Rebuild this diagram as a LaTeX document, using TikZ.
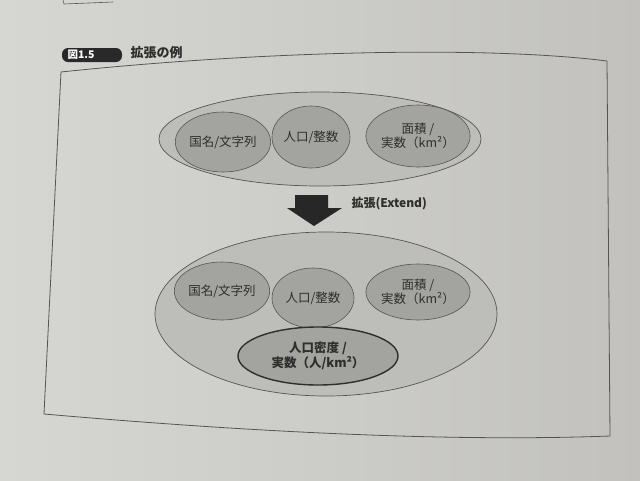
\documentclass[tikz,border=0pt]{standalone}
\usepackage{fontspec}
\setmainfont{Noto Sans CJK JP}
\usetikzlibrary{shapes.geometric}
\definecolor{pageL}{HTML}{D6D7D3}
\definecolor{pageR}{HTML}{C2C1BD}
\definecolor{outerfill}{HTML}{BDBDB9}
\definecolor{innerfill}{HTML}{A3A3A0}
\definecolor{ink}{HTML}{2E2E2E}
\definecolor{linec}{HTML}{555555}
\tikzset{
  outerell/.style={ellipse, draw=linec, line width=0.7pt, fill=outerfill, inner sep=0pt},
  innerell/.style={ellipse, draw=linec, line width=0.6pt, fill=innerfill, inner sep=0pt,
    text=ink, font=\fontsize{12.5}{14.5}\selectfont, align=center},
  newell/.style={innerell, line width=1.4pt, draw=ink, font=\bfseries\fontsize{12.5}{15}\selectfont},
}
\begin{document}
\begin{tikzpicture}[x=1pt,y=-1pt]
\useasboundingbox (0,0) rectangle (640,480);
\shade[left color=pageL, right color=pageR] (0,0) rectangle (640,480);
% remnant of previous box
\draw[linec, line width=0.6pt] (63,0) -- (64,4) -- (113,2);
% frame
\draw[linec, line width=0.8pt] (61,72) .. controls (250,52) and (480,45) .. (607,61)
  -- (610,436) .. controls (450,442) and (250,432) .. (44,414) -- cycle;
% figure label
\node[fill=ink!90!black, rounded corners=6pt, minimum width=60pt, minimum height=14pt,
  inner sep=0pt] (lab) at (92,55) {};
\node[text=white, font=\bfseries\fontsize{10.5}{12}\selectfont, anchor=west] (labt) at (64,55) {図1.5};
\node[text=ink, font=\bfseries\fontsize{13}{15}\selectfont, anchor=west] (title) at (127,53) {拡張の例};
% top group
\node[outerell, minimum width=322pt, minimum height=94pt] (top) at (320,139) {};
\node[innerell, minimum width=82pt, minimum height=60pt] (t1) at (223,142) {国名/文字列};
\node[innerell, minimum width=78pt, minimum height=62pt] (t2) at (311,137) {人口/整数};
\node[innerell, minimum width=92pt, minimum height=62pt] (t3) at (418,136) {面積 /\\実数（km²）};
% arrow
\fill[ink!85!black] (295,195) -- (328,195) -- (328,208) -- (342,208) -- (314,226) -- (287,208) -- (295,208) -- cycle;
\node[text=ink, font=\bfseries\fontsize{12}{14}\selectfont, anchor=west] (ext) at (348,204) {拡張(Extend)};
% bottom group
\node[outerell, minimum width=342pt, minimum height=164pt] (bot) at (326,314) {};
\node[innerell, minimum width=84pt, minimum height=58pt] (b1) at (222,291) {国名/文字列};
\node[innerell, minimum width=82pt, minimum height=60pt] (b2) at (313,298) {人口/整数};
\node[innerell, minimum width=92pt, minimum height=56pt] (b3) at (418,292) {面積 /\\実数（km²）};
\node[newell, minimum width=160pt, minimum height=58pt] (b4) at (318,356) {人口密度 /\\実数（人/km²）};
\end{tikzpicture}
\end{document}
